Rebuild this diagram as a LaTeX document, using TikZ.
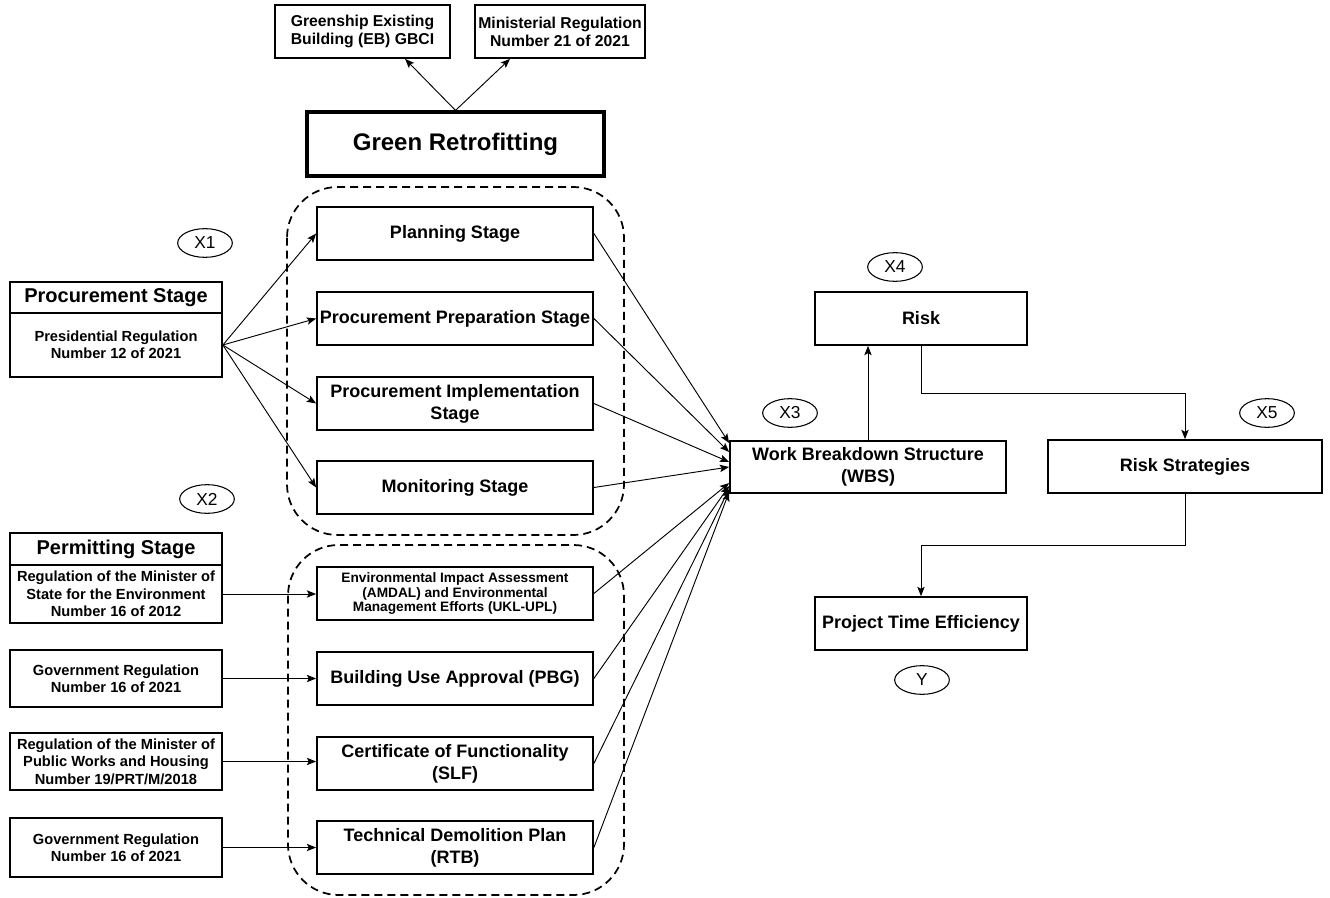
\documentclass[tikz,border=0pt]{standalone}
\usepackage{fontspec}
\setmainfont{Liberation Sans}
\usetikzlibrary{arrows.meta,shapes.geometric,calc}
\begin{document}
\begin{tikzpicture}[x=0.75pt,y=-0.75pt,
 box/.style={draw, line width=1.3pt, inner sep=0pt, align=center, font=\bfseries\fontsize{13.5}{16.5}\selectfont},
 stagebox/.style={box, minimum width=207pt, minimum height=39.75pt},
 regbox/.style={box, minimum width=159pt, font=\bfseries\fontsize{11}{13}\selectfont},
 topbox/.style={box, minimum height=39.75pt, font=\bfseries\fontsize{11.8}{13.5}\selectfont},
 headbox/.style={box, minimum width=159pt, font=\bfseries\fontsize{15}{17}\selectfont},
 lab/.style={draw, ellipse, line width=0.8pt, minimum width=41pt, minimum height=21.5pt, inner sep=0pt, font=\fontsize{13}{15}\selectfont},
 arr/.style={-{Stealth[length=7pt,width=5.5pt,inset=1.5pt]}, line width=0.7pt},
 dashbox/.style={dash pattern=on 6pt off 3.75pt, line width=1.3pt, rounded corners=38pt}
]
\useasboundingbox (0,0) rectangle (1330,898);

% top
\node[topbox, minimum width=131.25pt] (gs) at (362.5,31.5) {Greenship Existing\\Building (EB) GBCI};
\node[topbox, minimum width=127.5pt] (mr) at (560,31.5) {Ministerial Regulation\\Number 21 of 2021};
\node[box, line width=2.4pt, minimum width=222.75pt, minimum height=48pt, font=\bfseries\fontsize{18}{20}\selectfont] (gr) at (455.5,144) {Green Retrofitting};
\draw[arr] (gr.north) -- ([xshift=31.9pt]gs.south);
\draw[arr] (gr.north) -- ([xshift=-37.5pt]mr.south);

% dashed groups
\draw[dashbox] (287,187) rectangle (624,535);
\draw[dashbox] (288,545) rectangle (624,895);

% stage boxes
\node[stagebox] (plan) at (455,233.5) {Planning Stage};
\node[stagebox] (prep) at (455,318.5) {Procurement Preparation Stage};
\node[stagebox] (impl) at (455,403.5) {Procurement Implementation\\Stage};
\node[stagebox] (mon) at (455,487.5) {Monitoring Stage};
\node[stagebox, font=\bfseries\fontsize{10.25}{11}\selectfont] (eia) at (455,593.5) {Environmental Impact Assessment\\(AMDAL) and Environmental\\Management Efforts (UKL-UPL)};
\node[stagebox] (bua) at (455,678.5) {Building Use Approval (PBG)};
\node[stagebox] (cert) at (455,763.5) {Certificate of Functionality\\(SLF)};
\node[stagebox] (tdp) at (455,847.5) {Technical Demolition Plan\\(RTB)};

% left boxes
\node[headbox, minimum height=23.25pt] (phead) at (116,297.5) {Procurement Stage};
\node[regbox, minimum height=48pt] (pbody) at (116,345) {Presidential Regulation\\Number 12 of 2021};
\node[headbox, minimum height=24pt] (mhead) at (116,549) {Permitting Stage};
\node[regbox, minimum height=43.5pt] (mbody) at (116,594) {Regulation of the Minister of\\State for the Environment\\Number 16 of 2012};
\node[regbox, minimum height=42.75pt] (gr1) at (116,678.5) {Government Regulation\\Number 16 of 2021};
\node[regbox, minimum height=42.75pt] (pwh) at (116,761.5) {Regulation of the Minister of\\Public Works and Housing\\Number 19/PRT/M/2018};
\node[regbox, minimum height=44.25pt] (gr2) at (116,847.5) {Government Regulation\\Number 16 of 2021};

% right boxes
\node[box, minimum width=207pt, minimum height=39pt] (wbs) at (868,467) {Work Breakdown Structure\\(WBS)};
\node[box, minimum width=159pt, minimum height=39.75pt] (risk) at (921,318.5) {Risk};
\node[box, minimum width=205.5pt, minimum height=39.75pt] (rs) at (1185,466.5) {Risk Strategies};
\node[box, minimum width=159pt, minimum height=39.75pt] (pte) at (921,623.5) {Project Time Efficiency};

% labels
\node[lab] (x1) at (205,243) {X1};
\node[lab] (x2) at (207,499) {X2};
\node[lab] (x3) at (790,413) {X3};
\node[lab] (x4) at (895,267) {X4};
\node[lab] (x5) at (1267,413) {X5};
\node[lab] (y) at (922,680) {Y};

% procurement fan
\draw[arr] (pbody.east) -- (plan.west);
\draw[arr] (pbody.east) -- (prep.west);
\draw[arr] (pbody.east) -- (impl.west);
\draw[arr] (pbody.east) -- (mon.west);

% permitting arrows
\draw[arr] (mbody.east) -- (mbody.east -| eia.west);
\draw[arr] (gr1.east) -- (bua.west);
\draw[arr] (pwh.east) -- (pwh.east -| cert.west);
\draw[arr] (gr2.east) -- (tdp.west);

% to WBS
\draw[arr] (plan.east) -- ([yshift=18pt]wbs.west);
\draw[arr] (prep.east) -- ([yshift=11.25pt]wbs.west);
\draw[arr] (impl.east) -- ([yshift=3.75pt]wbs.west);
\draw[arr] (mon.east) -- (wbs.west);
\draw[arr] (eia.east) -- ([yshift=-12pt]wbs.west);
\draw[arr] (bua.east) -- ([yshift=-14.25pt]wbs.west);
\draw[arr] (cert.east) -- ([yshift=-16.5pt]wbs.west);
\draw[arr] (tdp.east) -- ([yshift=-18.75pt]wbs.west);

% right flow
\draw[arr] (wbs.north) -- (wbs.north |- risk.south);
\draw[arr] (risk.south) -- ++(0,48) -| (rs.north);
\draw[arr] (rs.south) -- ++(0,52) -| (pte.north);
\end{tikzpicture}
\end{document}
